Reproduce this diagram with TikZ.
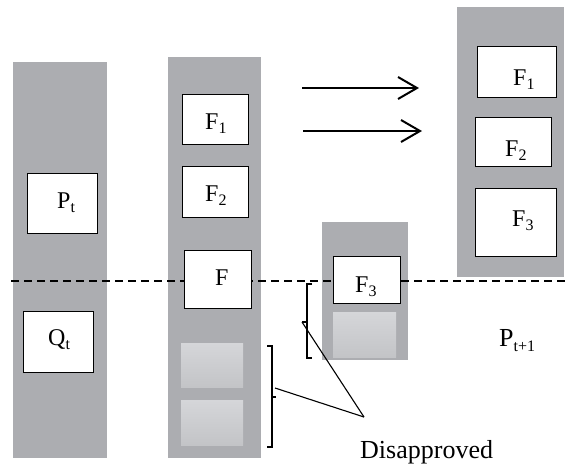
\documentclass[tikz,border=0pt]{standalone}
\usepackage{fontspec}
\setmainfont{Liberation Serif}
\usetikzlibrary{arrows.meta}
\definecolor{colgray}{HTML}{ACADB1}
\definecolor{lighttop}{HTML}{D5D6D9}
\definecolor{lightbot}{HTML}{C3C4C7}
\newcommand\subs[1]{\raisebox{-0.2em}{\fontsize{16}{16}\selectfont #1}}
\tikzset{
  column/.style={fill=colgray, draw=none, inner sep=0pt},
  whitebox/.style={fill=white, draw=black, line width=1pt, inner sep=0pt},
  lightbox/.style={top color=lighttop, bottom color=lightbot, draw=none, inner sep=0pt},
  lbl/.style={anchor=base west, inner sep=0pt, font=\fontsize{24}{26}\selectfont},
  bigtxt/.style={anchor=base west, inner sep=0pt, font=\fontsize{26}{28}\selectfont},
  brack/.style={line width=1.1pt},
  pointer/.style={line width=1.1pt},
  bigarrow/.style={line width=2pt, -{Straight Barb[length=19pt,width=22pt]}},
  sep/.style={dashed, dash pattern=on 8pt off 5pt, line width=1.5pt}
}
\begin{document}
\begin{tikzpicture}[x=1pt,y=-1pt]
\useasboundingbox (0,0) rectangle (567,467);
% gray columns
\node[column, minimum width=94, minimum height=396] (col1) at (60,260) {};
\node[column, minimum width=93, minimum height=401] (col2) at (214.5,257.5) {};
\node[column, minimum width=86, minimum height=138] (col3) at (365,291) {};
\node[column, minimum width=107, minimum height=270] (col4) at (510.5,142) {};
% dashed separator
\coordinate (dl) at (11,281);
\coordinate (dr) at (565,281);
\draw[sep] (dl) -- (dr);
% column 1
\node[whitebox, minimum width=70, minimum height=60] (pt) at (62,203) {};
\node[whitebox, minimum width=70, minimum height=61] (qt) at (58,341.5) {};
\node[lbl] (ptl) at (57,208) {P\subs{t}};
\node[lbl] (qtl) at (48,345) {Q\subs{t}};
% column 2
\node[whitebox, minimum width=66, minimum height=50] (af1) at (215,119) {};
\node[whitebox, minimum width=66, minimum height=51] (af2) at (215,191.5) {};
\node[whitebox, minimum width=67, minimum height=58] (af) at (217.5,279) {};
\node[lightbox, minimum width=62, minimum height=44] (al1) at (212,365) {};
\node[lightbox, minimum width=62, minimum height=45] (al2) at (212,422.5) {};
\node[lbl] (af1l) at (205,129) {F\subs{1}};
\node[lbl] (af2l) at (205,201) {F\subs{2}};
\node[lbl] (afl) at (215,285) {F};
% column 3
\node[whitebox, minimum width=67, minimum height=47] (bf3) at (366.5,279.5) {};
\node[lightbox, minimum width=63, minimum height=45] (bl) at (364.5,334.5) {};
\node[lbl] (bf3l) at (355,292) {F\subs{3}};
% column 4
\node[whitebox, minimum width=79, minimum height=51] (cf1) at (516.5,71.5) {};
\node[whitebox, minimum width=76, minimum height=49] (cf2) at (513,141.5) {};
\node[whitebox, minimum width=81, minimum height=68] (cf3) at (515.5,222) {};
\node[lbl] (cf1l) at (513,85) {F\subs{1}};
\node[lbl] (cf2l) at (505,156) {F\subs{2}};
\node[lbl] (cf3l) at (512,226) {F\subs{3}};
% arrows
\coordinate (a1s) at (302,88);
\coordinate (a1e) at (419,88);
\coordinate (a2s) at (303,131);
\coordinate (a2e) at (422,131);
\draw[bigarrow] (a1s) -- (a1e);
\draw[bigarrow] (a2s) -- (a2e);
% labels
\node[bigtxt] (pnext) at (499,346) {P\subs{t+1}};
\node[bigtxt] (dis) at (360,458) {Disapproved};
% brackets
\coordinate (n1) at (302,322);
\coordinate (n2) at (276,397);
\coordinate (tip) at (364,417);
\draw[brack] (312,284) -- (307,284) -- (307,358) -- (312,358);
\draw[brack] (307,322) -- (n1);
\draw[brack] (267,346) -- (272,346) -- (272,447) -- (267,447);
\draw[brack] (272,397) -- (n2);
\draw[pointer] (n1) -- (tip);
\draw[pointer] (275,388) -- (tip);
\end{tikzpicture}
\end{document}
